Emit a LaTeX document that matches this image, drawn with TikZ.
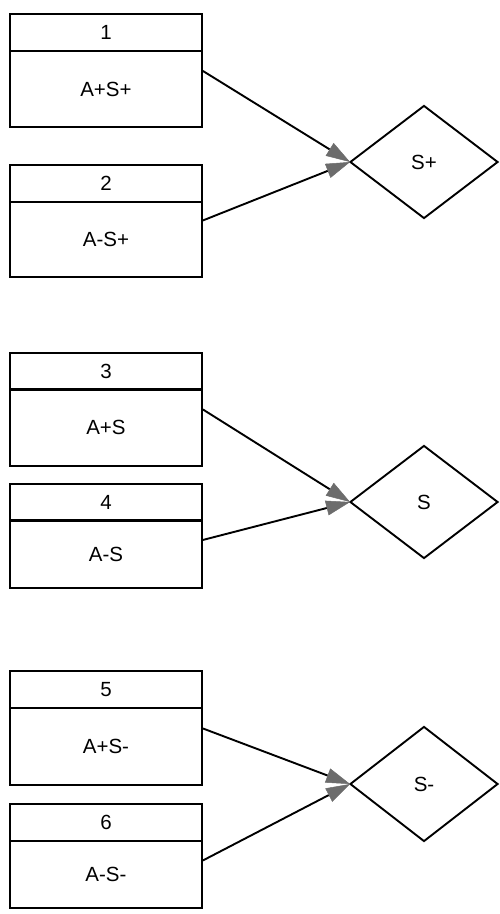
\documentclass[tikz,border=0pt]{standalone}
\usepackage{fontspec}
\setmainfont{Liberation Sans}
\usetikzlibrary{shapes.geometric,arrows.meta}
\begin{document}
\begin{tikzpicture}[x=1pt,y=-1pt,
  hdr/.style={draw=black,line width=1.9pt,minimum width=192pt,minimum height=37pt,inner sep=0pt,anchor=north west,font=\fontsize{20.5}{23}\selectfont},
  bdy/.style={draw=black,line width=1.9pt,minimum width=192pt,inner sep=0pt,anchor=north west,font=\fontsize{20.5}{23}\selectfont},
  dia/.style={draw=black,line width=1.9pt,diamond,minimum width=148pt,minimum height=113pt,inner sep=0pt,font=\fontsize{20.5}{23}\selectfont},
  conn/.style={draw=black,line width=1.9pt,-{Triangle[length=24pt,width=15pt,fill=gray!85!black,color=gray!85!black,line width=0.5pt]}}
]
\useasboundingbox (0,0) rectangle (499,914);
% group 1
\node[hdr] (h1) at (9,13) {1};
\node[bdy,minimum height=76pt] (b1) at (9,50) {A+S+};
\node[hdr] (h2) at (9,164) {2};
\node[bdy,minimum height=75pt] (b2) at (9,201) {A-S+};
\node[dia] (d1) at (424,162) {S+};
\draw[conn] ([yshift=18pt]b1.east) -- ([xshift=1pt]d1.west);
\draw[conn] ([yshift=19pt]b2.east) -- ([xshift=1pt]d1.west);
% group 2
\node[hdr] (h3) at (9,352) {3};
\node[bdy,minimum height=77pt] (b3) at (9,388) {A+S};
\node[hdr] (h4) at (9,483) {4};
\node[bdy,minimum height=68pt] (b4) at (9,519) {A-S};
\node[dia] (d2) at (424,502) {S};
\draw[conn] ([yshift=18pt]b3.east) -- ([xshift=1pt]d2.west);
\draw[conn] ([yshift=14pt]b4.east) -- ([xshift=1pt]d2.west);
% group 3
\node[hdr] (h5) at (9,670) {5};
\node[bdy,minimum height=77pt] (b5) at (9,707) {A+S-};
\node[hdr] (h6) at (9,803) {6};
\node[bdy,minimum height=67pt] (b6) at (9,840) {A-S-};
\node[dia,minimum height=115pt] (d3) at (424,784) {S-};
\draw[conn] ([yshift=18pt]b5.east) -- ([xshift=1pt]d3.west);
\draw[conn] ([yshift=14pt]b6.east) -- ([xshift=1pt]d3.west);
\end{tikzpicture}
\end{document}
